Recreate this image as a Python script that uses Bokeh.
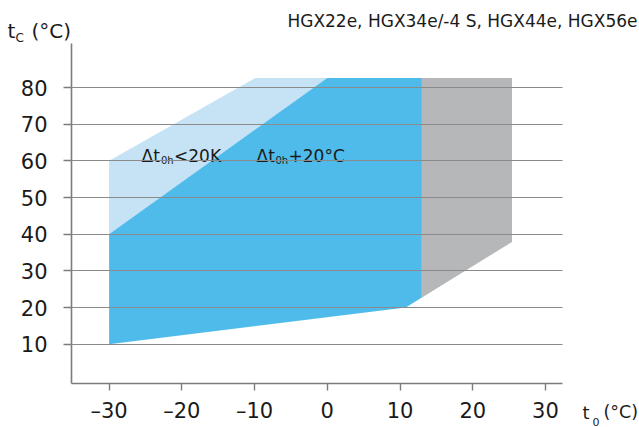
from bokeh.plotting import figure
from bokeh.models import Range1d, FixedTicker, Label
from bokeh.embed import file_html
from bokeh.resources import INLINE

# ---- data (t0 evaporating temp, tc condensing temp) ----
light_t0 = [-30, -30, -9.9, 13, 13]
light_tc = [40, 60, 82.6, 82.6, 40]

dark_t0 = [-30, -30, 0.0, 13.0, 13.0, 10.8]
dark_tc = [10, 40, 82.6, 82.6, 22.7, 20]

grey_t0 = [10.8, 25.4, 25.4, 13.0, 13.0]
grey_tc = [20, 37.9, 82.6, 82.6, 22.7]

x_ticks = [-30, -20, -10, 0, 10, 20, 30]
y_ticks = [10, 20, 30, 40, 50, 60, 70, 80]
x_tick_labels = ["–30", "–20", "–10", "0", "10", "20", "30"]

title_text = "HGX22e, HGX34e/-4 S, HGX44e, HGX56e"

FONT = "DejaVu Sans"
TXT = "#1a1a1a"

# axis extents (data) and where they sit on the page (pixels)
X0, X1 = -35.17, 32.34
Y0, Y1 = -0.72, 92.0
FL, FR, FT, FB = 71, 562, 43, 383
W, H = 639, 427

sx = (FR - FL) / (X1 - X0)
sy = (FB - FT) / (Y1 - Y0)
XA, XB = X0 - FL / sx, X1 + (W - FR) / sx
YA, YB = Y0 - (H - FB) / sy, Y1 + FT / sy

p = figure(width=W, height=H, output_backend="svg", toolbar_location=None, title=None,
           x_range=Range1d(XA, XB), y_range=Range1d(YA, YB),
           min_border=0, min_border_left=0, min_border_right=0,
           min_border_top=0, min_border_bottom=0)
p.outline_line_color = None
p.background_fill_color = "white"
p.border_fill_color = "white"

p.patch(light_t0, light_tc, fill_color="#C6E3F6", line_color=None)
p.patch(grey_t0, grey_tc, fill_color="#B6B7B9", line_color=None)
p.patch(dark_t0, dark_tc, fill_color="#4EBBEA", line_color=None)

p.xgrid.visible = False
p.ygrid.ticker = FixedTicker(ticks=y_ticks)
p.ygrid.bounds = (Y0, Y1)
p.ygrid.cross_bounds = (X0, X1)
p.ygrid.grid_line_color = "#8a8a8a"
p.ygrid.grid_line_width = 1.2
p.ygrid.level = "overlay"

for ax in (p.xaxis[0], p.yaxis[0]):
    ax.axis_line_color = "#7c7c7c"
    ax.axis_line_width = 1.6
    ax.major_tick_line_color = "#7c7c7c"
    ax.major_tick_line_width = 1.4
    ax.minor_tick_line_color = None
    ax.major_tick_in = 0
    ax.major_label_text_font = FONT
    ax.major_label_text_font_size = "21px"
    ax.major_label_text_color = TXT

p.xaxis.ticker = FixedTicker(ticks=x_ticks)
p.xaxis.major_label_overrides = {t: l for t, l in zip(x_ticks, x_tick_labels)}
p.xaxis.major_tick_out = 7
p.xaxis.major_label_standoff = 8
p.xaxis.fixed_location = Y0
p.xaxis.bounds = (X0, X1)
p.yaxis.ticker = FixedTicker(ticks=y_ticks)
p.yaxis.major_tick_out = 8
p.yaxis.major_label_standoff = 16
p.yaxis.fixed_location = X0
p.yaxis.bounds = (Y0, Y1)

def dx(px):
    return XA + px / sx

def dy(py):
    return YB - py / sy

def lab(px, py, text, size, align="left"):
    p.add_layout(Label(x=dx(px), y=dy(py), text=text, text_font=FONT,
                       text_font_size=size, text_color=TXT, text_align=align,
                       text_baseline="alphabetic"))

# title
lab(637, 20, title_text, "17px", "right")
# y label t_C (°C)
lab(7, 30, "t", "20px")
lab(15, 37, "C", "12px")
lab(31, 30, "(°C)", "20px")
# x label t_0 (°C)
lab(582, 411.5, "t", "18px")
lab(592, 421, "0", "11px")
lab(603, 411.5, "(°C)", "17.5px")
# annotations
lab(141, 155, "Δt", "17px")
lab(160.5, 159.5, "0h", "10px")
lab(173.5, 155, "<20K", "17px")
lab(256, 155, "Δt", "17px")
lab(275, 159.5, "0h", "10px")
lab(288, 155, "+20°C", "17px")

open("out.html", "w").write(file_html(p, INLINE))
